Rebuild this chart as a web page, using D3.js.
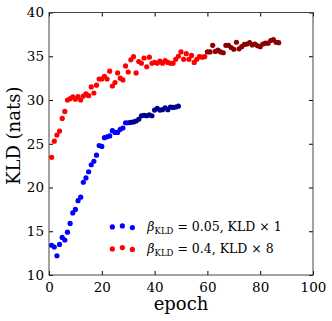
<!DOCTYPE html>
<meta charset="utf-8">
<script src="https://d3js.org/d3.v7.min.js"></script>
<style>
  body { margin: 0; background: #fff; }
  text { font-family: "DejaVu Serif", serif; fill: #000; }
</style>
<div id="chart"></div>
<script>
// KLD per epoch
var blueEpochs = d3.range(1, 50);
var blueKld = [13.4, 13.2, 12.2, 13.5, 14.3, 14.0, 14.9, 15.9, 17.1, 17.5,
  18.5, 18.9, 20.6, 21.1, 21.8, 22.6, 23.0, 23.7, 24.8, 24.7,
  25.7, 25.8, 25.9, 26.5, 26.3, 26.3, 26.65, 26.8, 27.4, 27.4,
  27.45, 27.5, 27.6, 27.8, 28.2, 28.25, 28.2, 28.3, 28.2, 28.85,
  29.05, 28.85, 28.9, 29.1, 28.9, 29.2, 29.15, 29.2, 29.3];
var blueSplit = 31; // epochs from here on are drawn darker

var redEpochs = d3.range(1, 88);
var redKld = [23.45, 25.3, 26.0, 26.45, 27.9, 28.7, 30.0, 30.15, 30.35, 30.1,
  30.4, 30.0, 30.45, 30.7, 30.5, 31.5, 30.8, 31.7, 32.4, 32.4,
  32.7, 32.4, 33.3, 31.6, 32.0, 33.1, 32.5, 32.3, 33.9, 33.2,
  34.6, 34.95, 33.1, 34.4, 34.2, 34.8, 33.8, 34.9, 34.2, 34.3,
  34.2, 34.45, 34.2, 34.5, 34.3, 34.2, 34.2, 34.65, 35.0, 35.5,
  34.65, 35.3, 34.65, 35.1, 34.3, 34.65, 34.95, 34.9, 34.95, 35.5,
  35.5, 36.25, 35.55, 35.7, 35.5, 35.4, 36.25, 36.25, 36.0, 35.8,
  36.6, 35.85, 36.1, 36.35, 36.4, 36.55, 36.3, 36.4, 36.2, 36.1,
  36.4, 36.5, 36.5, 36.8, 36.9, 36.6, 36.55];
var redSplit = 60;

var xTicks = [0, 20, 40, 60, 80, 100];
var yTicks = [10, 15, 20, 25, 30, 35, 40];

var W = 332, H = 321;
var margin = { top: 12.5, right: 19, bottom: 46, left: 49 };
var width = W - margin.left - margin.right,
    height = H - margin.top - margin.bottom;

var svg = d3.select("#chart").append("svg")
    .attr("width", W).attr("height", H)
  .append("g")
    .attr("transform", "translate(" + margin.left + "," + margin.top + ")");

var x = d3.scaleLinear().domain([0, 100]).range([0, width]);
var y = d3.scaleLinear().domain([10, 40]).range([height, 0]);

// axes with inward ticks on all four sides
function styleAxis(g) {
  g.select(".domain").remove();
  g.selectAll(".tick line").attr("stroke", "#000");
  g.selectAll(".tick text").style("font-size", "13.5px").style("font-family", "DejaVu Serif");
}
svg.append("g").attr("transform", "translate(0," + height + ")")
  .call(d3.axisBottom(x).tickValues(xTicks).tickSizeInner(-4).tickPadding(7))
  .call(styleAxis);
svg.append("g")
  .call(d3.axisLeft(y).tickValues(yTicks).tickSizeInner(-4).tickPadding(5))
  .call(styleAxis);
svg.append("g")
  .call(d3.axisTop(x).tickValues(xTicks).tickSizeInner(-4).tickFormat(""))
  .call(styleAxis);
svg.append("g").attr("transform", "translate(" + width + ",0)")
  .call(d3.axisRight(y).tickValues(yTicks).tickSizeInner(-4).tickFormat(""))
  .call(styleAxis);

svg.append("rect")
  .attr("width", width).attr("height", height)
  .attr("fill", "none").attr("stroke", "#444").attr("stroke-width", 1);

// points
function drawSeries(epochs, vals, split, c1, c2) {
  svg.append("g").selectAll("circle")
    .data(epochs.map(function (e, i) { return { e: e, v: vals[i] }; }))
    .enter().append("circle")
    .attr("cx", function (d) { return x(d.e); })
    .attr("cy", function (d) { return y(d.v); })
    .attr("r", 2.6)
    .attr("fill", function (d) { return d.e < split ? c1 : c2; });
}
drawSeries(redEpochs, redKld, redSplit, "#ff0000", "#8b0000");
drawSeries(blueEpochs, blueKld, blueSplit, "#0000ff", "#00008b");

// axis labels
svg.append("text")
  .attr("x", width / 2).attr("y", height + 35)
  .attr("text-anchor", "middle").style("font-size", "18px")
  .text("epoch");
svg.append("text")
  .attr("transform", "translate(" + (-29) + "," + (height / 2 - 8) + ") rotate(-90)")
  .attr("text-anchor", "middle").style("font-size", "18px")
  .text("KLD (nats)");

// legend
var legend = [
  { color: "#0000ff", beta: "0.05", mult: "1", yoff: [0, -1, 0.7] },
  { color: "#ff0000", beta: "0.4", mult: "8", yoff: [0.5, -0.8, 1] }
];
var lg = svg.append("g").attr("transform", "translate(" + x(24) + "," + y(5.5 + 10) + ")");
legend.forEach(function (l, i) {
  var row = lg.append("g").attr("transform", "translate(0," + (i * 21.5) + ")");
  row.selectAll("circle").data(l.yoff).enter().append("circle")
    .attr("cx", function (d, j) { return j * 10; })
    .attr("cy", function (d) { return d; })
    .attr("r", 2.6).attr("fill", l.color);
  var t = row.append("text").attr("x", 35).attr("y", 4.5).style("font-size", "12.5px");
  t.append("tspan").style("font-style", "italic").text("β");
  t.append("tspan").attr("dy", 3).style("font-size", "8.5px").text("KLD");
  t.append("tspan").attr("dy", -3).text(" = " + l.beta + ", KLD × " + l.mult);
});
</script>
